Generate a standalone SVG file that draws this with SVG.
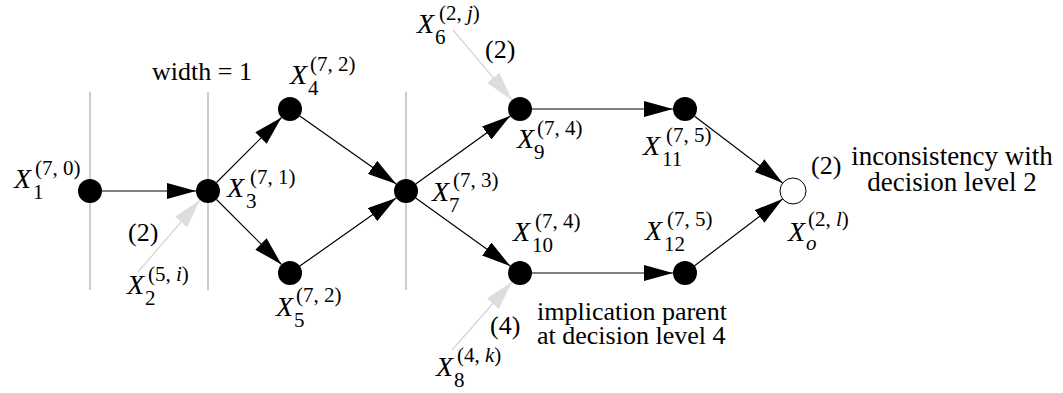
<svg xmlns="http://www.w3.org/2000/svg" width="1063" height="393" viewBox="0 0 1063 393">
<style>
text{font-family:"Liberation Serif","Tinos","Times New Roman","Noto Serif","DejaVu Serif",serif;fill:#000}
.t{font-size:26px}
.r{font-size:27px}
.x{font-style:italic;font-size:28px}
.s{font-size:21px}
.i{font-style:italic}
.e{stroke:#000;stroke-width:1.2;fill:none;marker-end:url(#ab)}
.g{stroke:#d4d4d4;stroke-width:1.2;fill:none;marker-end:url(#ag)}
.v{stroke:#999;stroke-width:1}
.n{fill:#000}
.o{fill:#fff;stroke:#000;stroke-width:1}
</style>
<defs>
<marker id="ab" markerUnits="userSpaceOnUse" markerWidth="29" markerHeight="16" refX="29" refY="8" orient="auto"><path d="M0,0 L29,8 L0,16 z" fill="#000"/></marker>
<marker id="ag" markerUnits="userSpaceOnUse" markerWidth="29" markerHeight="16" refX="29" refY="8" orient="auto"><path d="M0,0 L29,8 L0,16 z" fill="#ddd"/></marker>
</defs>
<g id="guides">
<line class="v" x1="90" y1="92" x2="90" y2="290"/>
<line class="v" x1="208" y1="92" x2="208" y2="290"/>
<line class="v" x1="406" y1="92" x2="406" y2="290"/>
<text class="t" x="152" y="80">width = 1</text>
</g>
<g id="connectors">
<line class="e" x1="102" y1="191" x2="196" y2="191"/>
<line class="e" x1="216.5" y1="182.5" x2="281.5" y2="117.5"/>
<line class="e" x1="216.5" y1="199.5" x2="281.5" y2="264.5"/>
<line class="e" x1="299.8" y1="115.9" x2="396.2" y2="184.1"/>
<line class="e" x1="299.8" y1="266.1" x2="396.2" y2="197.9"/>
<line class="e" x1="415.7" y1="184" x2="510.3" y2="116"/>
<line class="e" x1="415.7" y1="198" x2="510.3" y2="266"/>
<line class="e" x1="532" y1="109" x2="673" y2="109"/>
<line class="e" x1="532" y1="273" x2="673" y2="273"/>
<line class="e" x1="694.6" y1="116.3" x2="782.6" y2="183.1"/>
<line class="e" x1="694.6" y1="265.7" x2="782.6" y2="198.9"/>
<line class="g" x1="138" y1="272" x2="200" y2="200"/>
<line class="g" x1="453" y1="30" x2="512" y2="100"/>
<line class="g" x1="452" y1="350" x2="512" y2="282"/>
</g>
<g id="X1"><circle class="n" cx="90" cy="191" r="12"/><text class="x" x="14" y="188">X</text><text class="s" x="33" y="199">1</text><text class="s" x="35" y="175">(7, 0)</text></g>
<g id="X2"><text class="x" x="127" y="294">X</text><text class="s" x="145" y="305">2</text><text class="s" x="148" y="281">(5, <tspan class="i">i</tspan>)</text><text class="t" x="128" y="241">(2)</text></g>
<g id="X3"><circle class="n" cx="208" cy="191" r="12"/><text class="x" x="227" y="197">X</text><text class="s" x="246" y="208">3</text><text class="s" x="250" y="184">(7, 1)</text></g>
<g id="X4"><circle class="n" cx="290" cy="109" r="12"/><text class="x" x="290" y="84">X</text><text class="s" x="308" y="95">4</text><text class="s" x="310" y="71">(7, 2)</text></g>
<g id="X5"><circle class="n" cx="290" cy="273" r="12"/><text class="x" x="276" y="316">X</text><text class="s" x="294" y="327">5</text><text class="s" x="296" y="302">(7, 2)</text></g>
<g id="X6"><text class="x" x="417" y="33">X</text><text class="s" x="435" y="44">6</text><text class="s" x="439" y="20">(2, <tspan class="i">j</tspan>)</text><text class="t" x="485" y="58">(2)</text></g>
<g id="X7"><circle class="n" cx="406" cy="191" r="12"/><text class="x" x="432" y="201">X</text><text class="s" x="449" y="212">7</text><text class="s" x="453" y="187">(7, 3)</text></g>
<g id="X8"><text class="x" x="436" y="376">X</text><text class="s" x="454" y="387">8</text><text class="s" x="457" y="362">(4, <tspan class="i">k</tspan>)</text><text class="t" x="490" y="334">(4)</text></g>
<g id="X9"><circle class="n" cx="520" cy="109" r="12"/><text class="x" x="517" y="148">X</text><text class="s" x="534" y="159">9</text><text class="s" x="537" y="135">(7, 4)</text></g>
<g id="X10"><circle class="n" cx="520" cy="273" r="12"/><text class="x" x="513" y="241">X</text><text class="s" x="532" y="252">10</text><text class="s" x="535" y="228">(7, 4)</text><text class="t"><tspan x="537" y="320">implication parent</tspan><tspan x="537" dy="24">at decision level 4</tspan></text></g>
<g id="X11"><circle class="n" cx="685" cy="109" r="12"/><text class="x" x="643" y="155">X</text><text class="s" x="662" y="166">11</text><text class="s" x="666" y="142">(7, 5)</text></g>
<g id="X12"><circle class="n" cx="685" cy="273" r="12"/><text class="x" x="645" y="240">X</text><text class="s" x="664" y="251">12</text><text class="s" x="667" y="226">(7, 5)</text></g>
<g id="Xo"><circle class="o" cx="793" cy="191" r="13"/><text class="x" x="788" y="241">X</text><text class="s i" x="806" y="250">o</text><text class="s" x="808" y="226">(2, <tspan class="i">l</tspan>)</text><text class="t" x="811" y="174">(2)</text><text class="r" text-anchor="middle"><tspan x="952" y="165">inconsistency with</tspan><tspan x="952" dy="26">decision level 2</tspan></text></g>
</svg>
